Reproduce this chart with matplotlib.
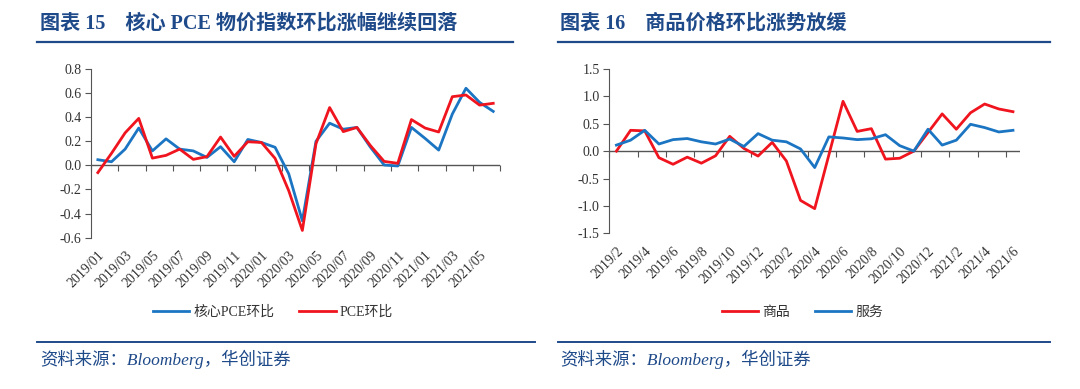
import numpy as np
import matplotlib
matplotlib.use('Agg')
from matplotlib import pyplot as plt
from matplotlib.lines import Line2D

plt.rcParams['font.family'] = ['Liberation Serif', 'Noto Sans CJK SC', 'DejaVu Sans']

# chart 15: core PCE vs PCE, m/m %
months15 = ['2019/01', '2019/02', '2019/03', '2019/04', '2019/05', '2019/06', '2019/07', '2019/08',
            '2019/09', '2019/10', '2019/11', '2019/12', '2020/01', '2020/02', '2020/03', '2020/04',
            '2020/05', '2020/06', '2020/07', '2020/08', '2020/09', '2020/10', '2020/11', '2020/12',
            '2021/01', '2021/02', '2021/03', '2021/04', '2021/05', '2021/06']
core_pce = [0.047, 0.03, 0.135, 0.31, 0.12, 0.22, 0.135, 0.12, 0.066, 0.155, 0.03, 0.215, 0.19, 0.15,
            -0.07, -0.46, 0.2, 0.35, 0.3, 0.315, 0.15, 0.003, -0.005, 0.315, 0.224, 0.127, 0.426,
            0.64, 0.523, 0.448]
pce = [-0.06, 0.1, 0.27, 0.39, 0.06, 0.083, 0.135, 0.05, 0.072, 0.235, 0.075, 0.196, 0.19, 0.058,
       -0.21, -0.54, 0.18, 0.48, 0.28, 0.315, 0.163, 0.033, 0.017, 0.38, 0.31, 0.277, 0.57,
       0.584, 0.5, 0.515]

# chart 16: goods vs services, m/m %
months16 = ['2019/2', '2019/3', '2019/4', '2019/5', '2019/6', '2019/7', '2019/8', '2019/9', '2019/10',
            '2019/11', '2019/12', '2020/1', '2020/2', '2020/3', '2020/4', '2020/5', '2020/6', '2020/7',
            '2020/8', '2020/9', '2020/10', '2020/11', '2020/12', '2021/1', '2021/2', '2021/3',
            '2021/4', '2021/5', '2021/6']
goods = [0.0, 0.38, 0.37, -0.12, -0.24, -0.11, -0.22, -0.085, 0.27, 0.05, -0.09, 0.16, -0.18,
         -0.9, -1.05, -0.07, 0.91, 0.36, 0.41, -0.146, -0.13, 0.0, 0.34, 0.68, 0.4, 0.7, 0.86,
         0.77, 0.72]
services = [0.11, 0.2, 0.38, 0.13, 0.21, 0.23, 0.17, 0.13, 0.22, 0.085, 0.32, 0.2, 0.17, 0.04,
            -0.3, 0.26, 0.24, 0.21, 0.225, 0.3, 0.1, 0.0, 0.4, 0.11, 0.2, 0.49, 0.43, 0.35, 0.38]

BLUE = '#1B75C2'
RED = '#F0141E'
NAVY = '#1F4A8A'
AXC = '#555555'

fig = plt.figure(figsize=(10.8, 3.89), dpi=100)


def draw(rect, labels, s1, s2, c1, c2, n1, n2, ylim, yticks, leg_x, leg_y):
    ax = fig.add_axes(rect)
    x = np.arange(len(labels))
    l1, = ax.plot(x, s1, color=c1, lw=2.0, label=n1)
    l2, = ax.plot(x, s2, color=c2, lw=2.0, label=n2)
    ax.set_xlim(-0.5, len(labels) - 0.5)
    ax.set_ylim(*ylim)
    ax.set_yticks(yticks)
    ax.yaxis.set_major_formatter(matplotlib.ticker.FormatStrFormatter('%.1f'))
    for s in ['top', 'right', 'bottom']:
        ax.spines[s].set_visible(False)
    ax.spines['left'].set_color(AXC)
    ax.tick_params(axis='y', direction='out', length=4, color=AXC, labelsize=10,
                   labelcolor='#333333', pad=3)
    # category labels at bottom
    ax.set_xticks(x[::2])
    ax.set_xticklabels(labels[::2], rotation=45, ha='right', rotation_mode='anchor')
    ax.tick_params(axis='x', length=0, labelsize=10, labelcolor='#333333', pad=8)
    # zero axis with boundary ticks
    ax.axhline(0, color=AXC, lw=1.0, zorder=1)
    sec = ax.secondary_xaxis(0, transform=ax.transData)
    sec.set_xticks(np.arange(-0.5, len(labels), 2))
    sec.tick_params(axis='x', direction='out', length=4, color=AXC, labelbottom=False)
    sec.spines['bottom'].set_visible(False)
    leg = ax.legend(handles=[l1, l2], loc='center', bbox_to_anchor=(leg_x, leg_y),
                    ncol=2, frameon=False, handlelength=2.6, columnspacing=1.8,
                    handletextpad=0.3, prop={'family': ['Liberation Serif', 'Noto Sans CJK SC'],
                                             'size': 10})
    for t in leg.get_texts():
        t.set_color('#333333')
    return ax


draw([0.0843, 0.389, 0.3787, 0.4337], months15, core_pce, pce, BLUE, RED,
     '核心PCE环比', 'PCE环比', (-0.6, 0.8), np.arange(-0.6, 0.81, 0.2), 0.445, -0.44)
draw([0.5642, 0.4003, 0.3803, 0.4224], months16, goods, services, RED, BLUE,
     '商品', '服务', (-1.5, 1.5), np.arange(-1.5, 1.51, 0.5), 0.47, -0.48)

# titles and rules
tfont = ['Liberation Serif', 'Noto Sans CJK SC']
fig.text(40 / 1080, 1 - 24 / 389, '图表 15    核心 PCE 物价指数环比涨幅继续回落', color=NAVY,
         fontsize=14.5, fontweight='bold', va='center', family=tfont)
fig.text(560 / 1080, 1 - 24 / 389, '图表 16    商品价格环比涨势放缓', color=NAVY,
         fontsize=14.5, fontweight='bold', va='center', family=tfont)
fig.add_artist(Line2D([37 / 1080, 513 / 1080], [1 - 42 / 389] * 2, color=NAVY, lw=1.6))
fig.add_artist(Line2D([558 / 1080, 1050 / 1080], [1 - 42 / 389] * 2, color=NAVY, lw=1.6))
fig.add_artist(Line2D([37 / 1080, 535 / 1080], [1 - 342 / 389] * 2, color=NAVY, lw=1.4))
fig.add_artist(Line2D([558 / 1080, 1050 / 1080], [1 - 342 / 389] * 2, color=NAVY, lw=1.4))
fig.text(40 / 1080, 1 - 359 / 389, '资料来源：Bloomberg，华创证券', color=NAVY, fontsize=12.5,
         style='italic', va='center', family=tfont)
fig.text(560 / 1080, 1 - 359 / 389, '资料来源：Bloomberg，华创证券', color=NAVY, fontsize=12.5,
         style='italic', va='center', family=tfont)

fig.savefig('out.png', dpi=100)
